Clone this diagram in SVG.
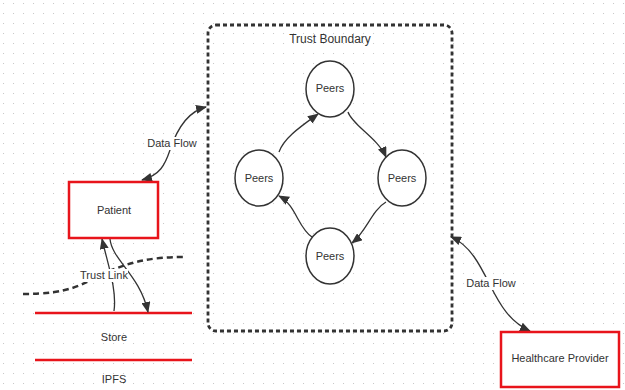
<svg xmlns="http://www.w3.org/2000/svg" width="625" height="390" viewBox="0 0 625 390">
<style>
text{font-family:"Liberation Sans",Arial,sans-serif;font-size:11px;fill:#333;text-anchor:middle}
.peer{fill:#fff;stroke:#333;stroke-width:1.5}
.box{fill:#fff;stroke:#e8141b;stroke-width:2.5}
.edge{fill:none;stroke:#333;stroke-width:1.3}
.red{stroke:#e8141b;stroke-width:2.5}
</style>
<defs>
<pattern id="grid" width="10" height="10" patternUnits="userSpaceOnUse" x="3" y="3">
<circle cx="0.5" cy="0.5" r="0.6" fill="#c8c8c8"/>
</pattern>
<marker id="ah" markerWidth="11" markerHeight="9" refX="10" refY="4.5" orient="auto-start-reverse" markerUnits="userSpaceOnUse">
<path d="M0,0 L11,4.5 L0,9 z" fill="#333"/>
</marker>
</defs>
<rect width="625" height="390" fill="#fff"/>
<rect width="625" height="390" fill="url(#grid)"/>
<g id="trust-boundary">
<rect x="208" y="25" width="244" height="306" rx="8" fill="none" stroke="#333" stroke-width="2.8" stroke-dasharray="4,3"/>
<text x="330" y="43" style="font-size:12px">Trust Boundary</text>
</g>
<g id="trust-line">
<path d="M23,294 C70,294 80,285 105,273 C130,262 150,257 184,257" fill="none" stroke="#333" stroke-width="2.5" stroke-dasharray="6,4"/>
</g>
<g id="store">
<line x1="35" y1="313" x2="192" y2="313" class="red"/>
<text x="114" y="341">Store</text>
</g>
<g id="ipfs">
<line x1="35" y1="360" x2="192" y2="360" class="red"/>
<text x="114" y="383">IPFS</text>
</g>
<g id="connectors">
<path class="edge" d="M279,152 C284,138 300,127 318,114" marker-end="url(#ah)"/>
<path class="edge" d="M348,112 C352,125 378,138 386,157" marker-end="url(#ah)"/>
<path class="edge" d="M386,202 C372,210 366,232 352,243" marker-end="url(#ah)"/>
<path class="edge" d="M312,237 C298,228 296,205 279,196" marker-end="url(#ah)"/>
<path class="edge" d="M206,107 C185,112 175,135 170,150 C165,165 160,175 142,180" marker-start="url(#ah)" marker-end="url(#ah)"/>
<path class="edge" d="M451,237 C470,245 480,265 490,285 C500,305 510,322 530,331" marker-start="url(#ah)" marker-end="url(#ah)"/>
<path class="edge" d="M114,311 C117,290 108,265 102,239" marker-end="url(#ah)"/>
<path class="edge" d="M110,239 C112,260 140,275 148,312" marker-end="url(#ah)"/>
<rect x="147" y="137" width="50" height="13" fill="#fff"/>
<text x="172" y="147">Data Flow</text>
<rect x="466" y="277" width="50" height="13" fill="#fff"/>
<text x="491" y="287">Data Flow</text>
<rect x="80" y="269" width="48" height="13" fill="#fff"/>
<text x="104" y="279">Trust Link</text>
</g>
<g id="peer-top"><ellipse class="peer" cx="330" cy="89" rx="24" ry="28"/><text x="330" y="92">Peers</text></g>
<g id="peer-left"><ellipse class="peer" cx="259" cy="178" rx="24" ry="28"/><text x="259" y="182">Peers</text></g>
<g id="peer-right"><ellipse class="peer" cx="402" cy="178" rx="24" ry="28"/><text x="402" y="182">Peers</text></g>
<g id="peer-bottom"><ellipse class="peer" cx="330" cy="256" rx="24" ry="28"/><text x="330" y="260">Peers</text></g>
<g id="patient"><rect class="box" x="69" y="182" width="89" height="56"/><text x="114" y="214">Patient</text></g>
<g id="healthcare-provider"><rect class="box" x="501" y="332" width="118" height="55"/><text x="560" y="362">Healthcare Provider</text></g>
</svg>
